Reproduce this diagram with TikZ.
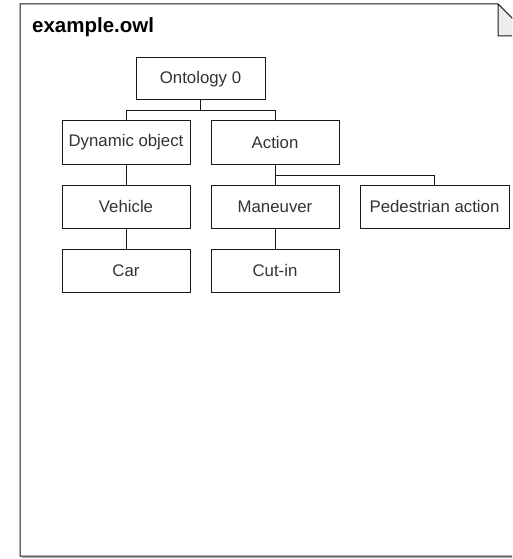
\documentclass[tikz,border=0pt]{standalone}
\usepackage{fontspec}
\setmainfont{Liberation Sans}
\begin{document}
\begin{tikzpicture}[x=1pt,y=-1pt,
  box/.style={draw=black!90,line width=1pt,fill=white,minimum width=128pt,minimum height=43pt,inner sep=0pt,font=\fontsize{16.8}{19}\selectfont,text=black!80},
  conn/.style={draw=black!90,line width=1pt}]
\useasboundingbox (0,0) rectangle (512,559);
\begin{scope}
\clip (0,0) rectangle (512,559);
% shadow
\draw[black!35,line width=1.2pt] (22,557.5) -- (530,557.5);
\draw[black!90,line width=1pt] (20,4) -- (498,4) -- (530,36) -- (530,556) -- (20,556) -- cycle;
\draw[black!90,line width=1pt,fill=black!7] (498,4) -- (530,36) -- (498,36) -- cycle;
\end{scope}
\node[anchor=base west,font=\bfseries\fontsize{20.5}{23}\selectfont,inner sep=0pt] (title) at (32,33) {example.owl};
\node[box,minimum width=129pt,minimum height=42pt] (onto) at (200.5,79) {Ontology 0};
\node[box] (dyn) at (126,142.5) {Dynamic object};
\node[box] (act) at (275,142.5) {Action};
\node[box] (veh) at (126,206.5) {Vehicle};
\node[box] (man) at (275,206.5) {Maneuver};
\node[box,minimum width=149pt] (ped) at (434.5,206.5) {Pedestrian action};
\node[box] (car) at (126,270.5) {Car};
\node[box] (cut) at (275,270.5) {Cut-in};
\draw[conn] (onto.south) -- ++(0,10) -| (dyn.north);
\draw[conn] (onto.south) -- ++(0,10) -| (act.north);
\draw[conn] (act.south) -- (man.north);
\draw[conn] (act.south) -- ++(0,11) -| (ped.north);
\draw[conn] (dyn.south) -- (veh.north);
\draw[conn] (veh.south) -- (car.north);
\draw[conn] (man.south) -- (cut.north);
\end{tikzpicture}
\end{document}
